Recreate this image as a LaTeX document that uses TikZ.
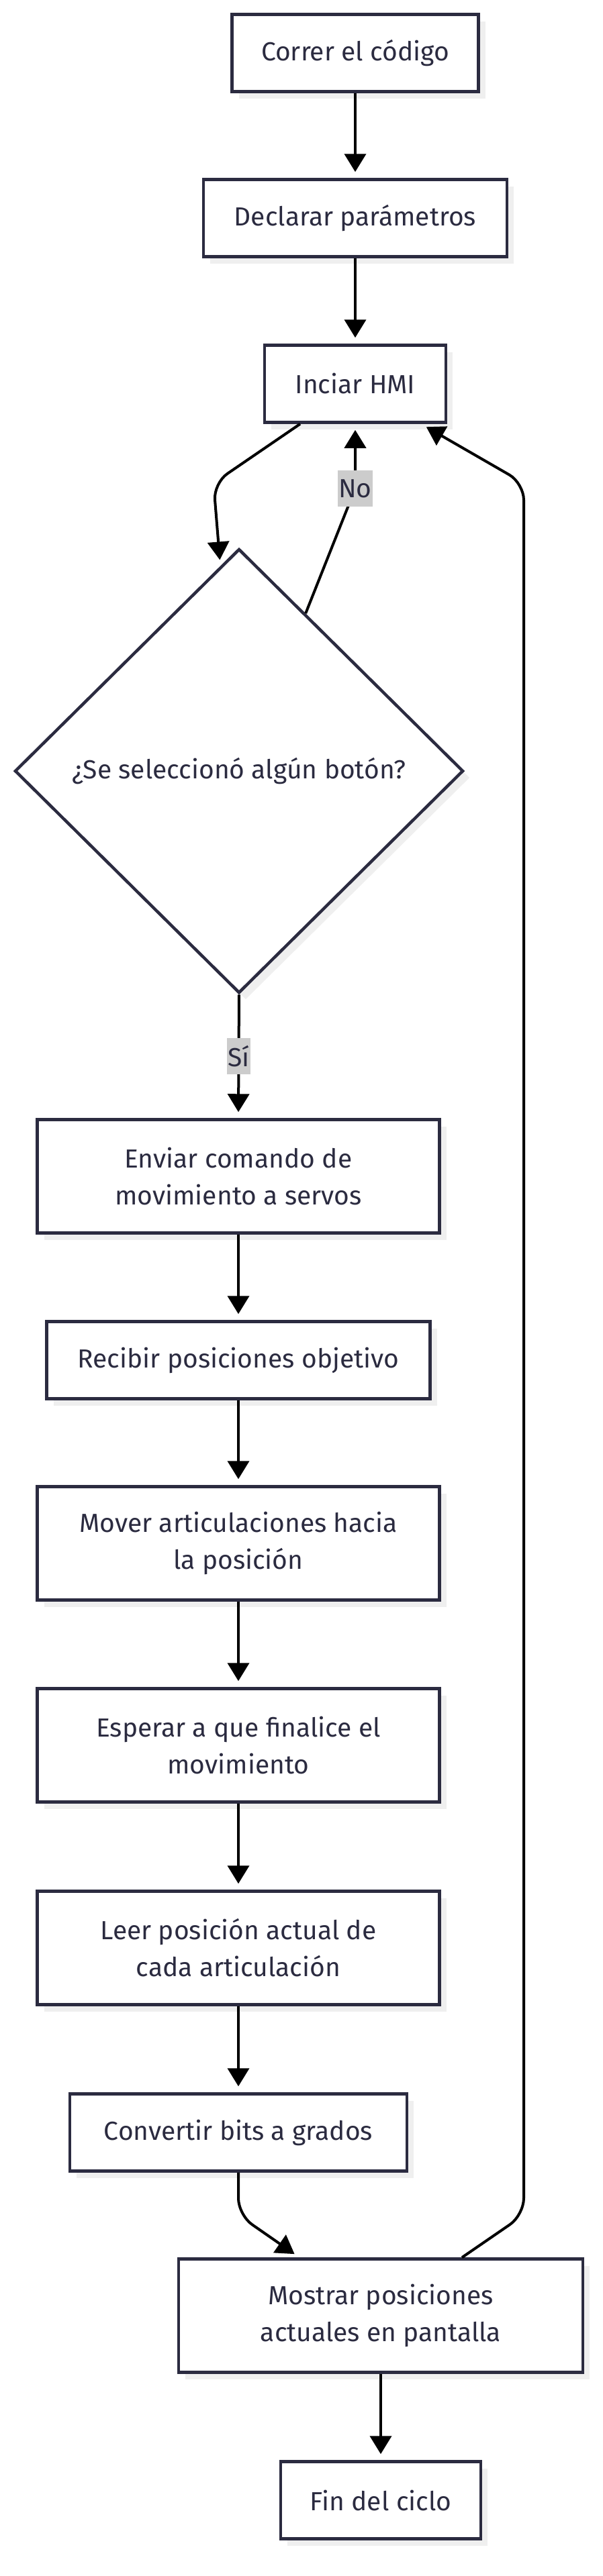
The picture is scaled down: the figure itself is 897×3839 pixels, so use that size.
\documentclass[tikz,border=0pt]{standalone}
\usepackage{fontspec}
\setmainfont{Fira Sans}
\usetikzlibrary{positioning,shapes.geometric,arrows.meta,shadows,calc}
\definecolor{borde}{HTML}{2B2B40}
\definecolor{sombra}{HTML}{EFEFEF}
\definecolor{etiq}{HTML}{CCCCCC}
\tikzset{
    texto/.style={font=\fontsize{39}{55}\selectfont, text=borde},
    caja/.style={texto, rectangle, draw=borde, line width=4.5pt, fill=white,
        align=center, inner sep=0pt, minimum height=115pt,
        drop shadow={shadow xshift=10pt, shadow yshift=-10pt, fill=sombra, opacity=1}},
    cajados/.style={caja, minimum width=599pt, minimum height=169pt},
    rombo/.style={texto, diamond, draw=borde, line width=4.5pt, fill=white,
        inner sep=0pt, minimum width=668pt, minimum height=662pt,
        drop shadow={shadow xshift=10pt, shadow yshift=-10pt, fill=sombra, opacity=1}},
    flecha/.style={draw=black, line width=4pt, -{Triangle[width=32pt,length=27pt]},
        shorten >=9pt},
    etiqueta/.style={texto, sharp corners, fill=etiq, inner xsep=1pt, inner ysep=0pt,
        minimum height=54pt}
}
\begin{document}
\begin{tikzpicture}[x=1pt, y=-1pt]
        % 画布大小
        \useasboundingbox (0,0) rectangle (897,3839);
        % 节点
        \node[caja, minimum width=367pt] (correr) at (529,79) {Correr el código};
        \node[caja, minimum width=452pt] (declarar) at (529,325) {Declarar parámetros};
        \node[caja, minimum width=270pt] (hmi) at (529,572) {Inciar HMI};
        \node[rombo] (boton) at (356,1149) {¿Se seleccionó algún botón?};
        \node[cajados] (enviar) at (355,1753) {Enviar comando de\\movimiento a servos};
        \node[caja, minimum width=571pt] (recibir) at (355,2027) {Recibir posiciones objetivo};
        \node[cajados] (mover) at (355,2300) {Mover articulaciones hacia\\la posición};
        \node[cajados] (esperar) at (355,2601) {Esperar a que finalice el\\movimiento};
        \node[cajados] (leer) at (355,2903) {Leer posición actual de\\cada articulación};
        \node[caja, minimum width=502pt] (convertir) at (355,3178) {Convertir bits a grados};
        \node[cajados, minimum width=602pt] (mostrar) at (567,3451) {Mostrar posiciones\\actuales en pantalla};
        \node[caja, minimum width=298pt] (fin) at (567,3726) {Fin del ciclo};
        % 连线
        \draw[flecha] (correr.south) -- (declarar.north);
        \draw[flecha] (declarar.south) -- (hmi.north);
        \draw[flecha, rounded corners=25pt] ([xshift=-82pt]hmi.south) -- (318,720)
            -- ($(boton.north)!0.083!(boton.west)$);
        \draw[flecha, rounded corners=12pt] ($(boton.north)!0.295!(boton.east)$) -- (529,728)
            node[etiqueta] {No} -- (hmi.south);
        \draw[flecha] (boton.south) -- node[etiqueta] {Sí} (enviar.north);
        \draw[flecha] (enviar) -- (recibir);
        \draw[flecha] (recibir) -- (mover);
        \draw[flecha] (mover) -- (esperar);
        \draw[flecha] (esperar) -- (leer);
        \draw[flecha] (leer) -- (convertir);
        \draw[flecha, rounded corners=25pt] (convertir.south) -- (355,3301)
            -- ([xshift=-121pt]mostrar.north);
        % 回到 HMI
        \draw[flecha, rounded corners=25pt] ([xshift=121pt]mostrar.north) -- (780,3301)
            -- (780,720) -- ([xshift=98pt]hmi.south);
        \draw[flecha] (mostrar) -- (fin);
    \end{tikzpicture}
\end{document}
